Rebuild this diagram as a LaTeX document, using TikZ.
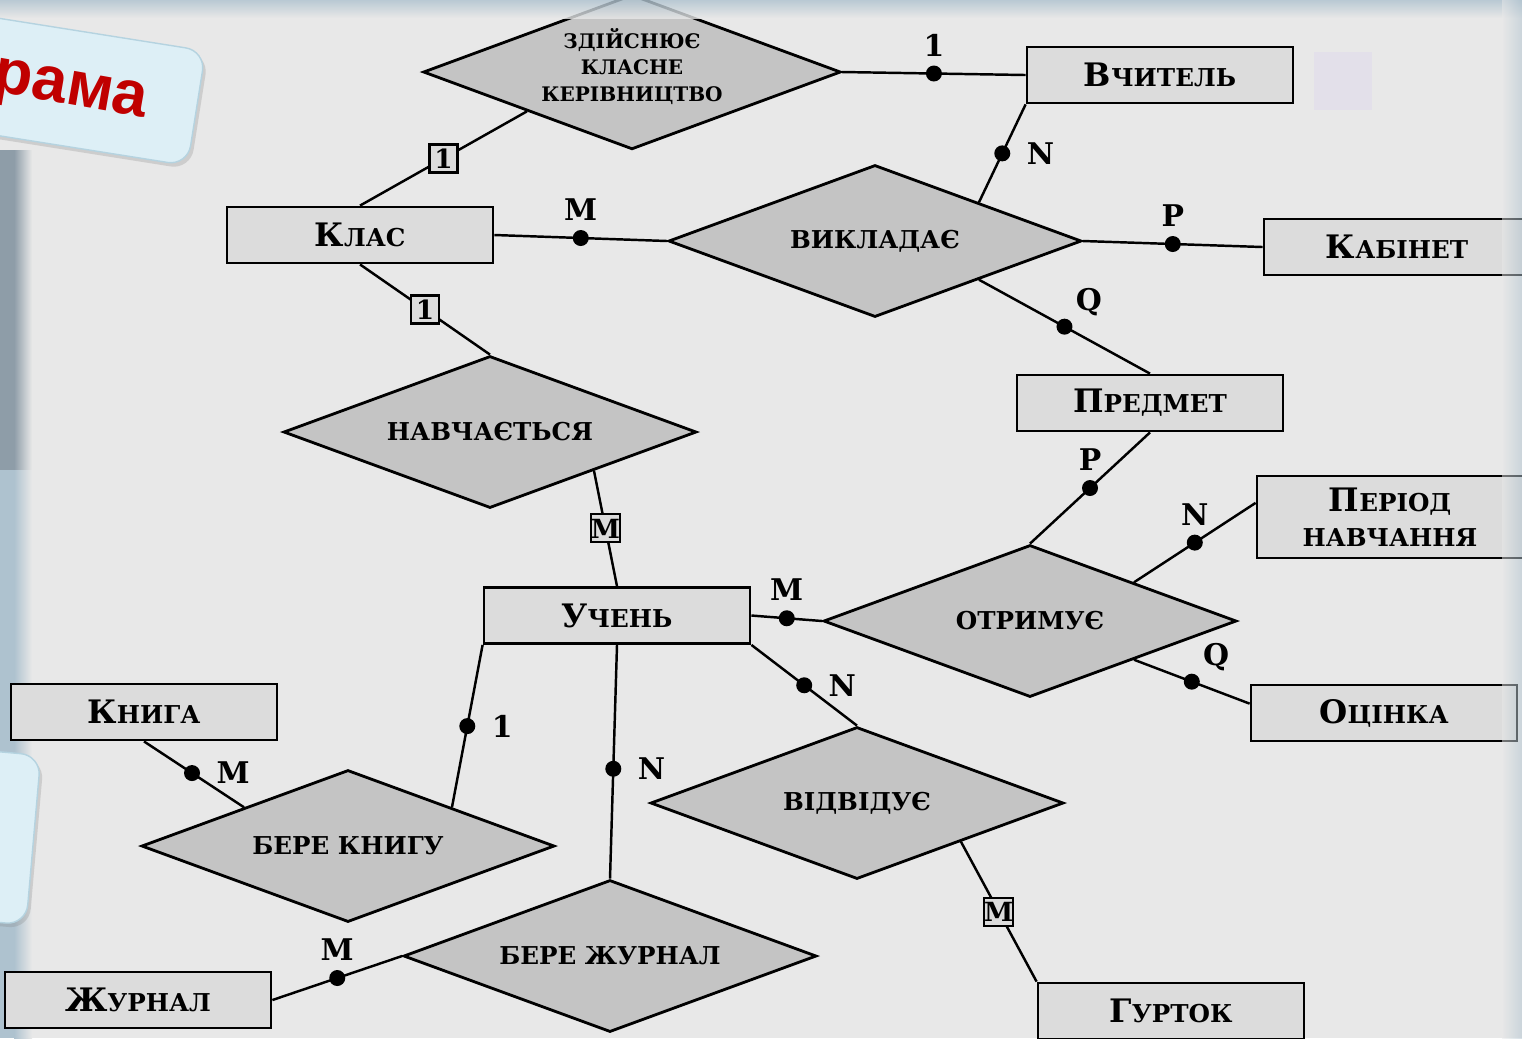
\documentclass[tikz,border=0pt]{standalone}
\usepackage{fontspec}
\setmainfont{DejaVu Serif}
\newfontfamily\slidefont{Liberation Sans}
\usetikzlibrary{shapes.geometric,shadows}

\definecolor{pagebg}{HTML}{E8E8E8}
\definecolor{entfill}{HTML}{DCDCDC}
\definecolor{relfill}{HTML}{C4C4C4}
\definecolor{tabblue}{HTML}{DDEFF6}
\definecolor{tabedge}{HTML}{B5D3E0}
\definecolor{titlered}{HTML}{C00000}
\definecolor{bandgray}{HTML}{8E9DA8}
\definecolor{bandblue}{HTML}{AEC2CF}
\definecolor{lavpatch}{HTML}{E3E0EA}

% big first letter, the rest in small capitals
\newcommand{\bigsc}[2]{{\fontsize{9.2}{11}\selectfont #1}{\fontsize{7}{9}\selectfont #2}}

\begin{document}
\begin{tikzpicture}[
    font=\bfseries\fontsize{7}{9}\selectfont,
    ent/.style={draw, line width=0.8pt, fill=entfill, rectangle,
                minimum width=2.66cm, minimum height=0.56cm,
                inner sep=2pt, align=center},
    rel/.style={draw, line width=0.8pt, fill=relfill, diamond, aspect=2.7,
                inner sep=0pt, minimum width=4.13cm, minimum height=1.52cm,
                align=center},
    lnk/.style={line width=0.7pt},
    dotmark/.style={circle, fill=black, inner sep=0pt, minimum size=0.16cm},
    card/.style={font=\bfseries\fontsize{8.5}{9}\selectfont, inner sep=1pt},
    boxcard/.style={draw, line width=0.6pt, fill=entfill, inner sep=0pt,
                    minimum size=0.28cm, font=\bfseries\fontsize{7.5}{8}\selectfont},
    tab/.style={fill=tabblue, draw=tabedge, rounded corners=0.2cm,
                drop shadow={opacity=0.25, shadow xshift=0.03cm, shadow yshift=-0.04cm}}
  ]
    %% --- page ---
    \fill[pagebg] (0,0) rectangle (15.22,-10.38);
    \useasboundingbox (0,0) rectangle (15.22,-10.38);
    \fill[bandgray] (0,-1.5) rectangle (0.14,-4.7);
    \shade[left color=bandgray, right color=pagebg] (0.14,-1.5) rectangle (0.32,-4.7);
    \fill[bandblue] (0,-4.7) rectangle (0.14,-10.38);
    \shade[left color=bandblue, right color=pagebg] (0.14,-4.7) rectangle (0.32,-10.38);

    %% --- Entities ---
    \node[ent] (vch) at (11.60,-0.75) {\bigsc{В}{ЧИТЕЛЬ}};
    \node[ent] (kl)  at (3.60,-2.35)  {\bigsc{К}{ЛАС}};
    \node[ent] (kab) at (13.97,-2.47) {\bigsc{К}{АБІНЕТ}};
    \node[ent] (pr)  at (11.50,-4.03) {\bigsc{П}{РЕДМЕТ}};
    \node[ent, minimum height=0.82cm, inner sep=1pt] (pn) at (13.90,-5.17)
      {\bigsc{П}{ЕРІОД}\\[1pt]НАВЧАННЯ};
    \node[ent] (uch) at (6.17,-6.155) {\bigsc{У}{ЧЕНЬ}};
    \node[ent] (oc)  at (13.84,-7.13) {\bigsc{О}{ЦІНКА}};
    \node[ent] (kn)  at (1.44,-7.12)  {\bigsc{К}{НИГА}};
    \node[ent] (zh)  at (1.38,-10.00) {\bigsc{Ж}{УРНАЛ}};
    \node[ent] (gur) at (11.71,-10.11) {\bigsc{Г}{УРТОК}};

    %% --- Relationships ---
    \node[rel, font=\bfseries\fontsize{5.7}{7.6}\selectfont] (zdk) at (6.32,-0.72)
      {ЗДІЙСНЮЄ\\КЛАСНЕ\\КЕРІВНИЦТВО\\[-3.6pt]\mbox{}};
    \node[rel] (vyk) at (8.75,-2.41)  {ВИКЛАДАЄ};
    \node[rel] (nav) at (4.90,-4.32)  {НАВЧАЄТЬСЯ};
    \node[rel] (otr) at (10.30,-6.21) {ОТРИМУЄ};
    \node[rel] (vid) at (8.57,-8.03)  {ВІДВІДУЄ};
    \node[rel] (bk)  at (3.48,-8.46)  {БЕРЕ КНИГУ};
    \node[rel] (bzh) at (6.10,-9.56)  {БЕРЕ ЖУРНАЛ};

    %% --- Links ---
    \draw[lnk] (zdk.east) -- node[dotmark, label={[card, label distance=1pt]above:1}] {} (vch.west);
    \draw[lnk] (kl.north) -- node[boxcard] {1} (zdk.south west);
    \draw[lnk] (kl.east) -- node[dotmark, label={[card, label distance=1pt]above:M}] {} (vyk.west);
    \draw[lnk] (vch.south west) -- node[dotmark, label={[card, label distance=3pt]right:N}] {} (vyk.north east);
    \draw[lnk] (vyk.east) -- node[dotmark, label={[card, label distance=1pt]above:P}] {} (kab.west);
    \draw[lnk] (vyk.south east) -- node[dotmark, label={[card]above right:Q}] {} (pr.north);
    \draw[lnk] (kl.south) -- node[boxcard] {1} (nav.north);
    \draw[lnk] (nav.south east) -- node[boxcard] {M} (uch.north);
    \draw[lnk] (uch.east) -- node[dotmark, label={[card, label distance=1pt]above:M}] {} (otr.west);
    \draw[lnk] (pr.south) -- node[dotmark, label={[card, label distance=1pt]above:P}] {} (otr.north);
    \draw[lnk] (pn.174) -- node[dotmark, label={[card, label distance=1pt]above:N}] {} (otr.north east);
    \draw[lnk] (otr.south east) -- node[dotmark, label={[card]above right:Q}] {} (oc.176);
    \draw[lnk] (uch.south east) -- node[dotmark, label={[card, label distance=3pt]right:N}] {} (vid.north);
    \draw[lnk] (vid.south east) -- node[boxcard] {M} (gur.north west);
    \draw[lnk] (uch.south) -- node[pos=.53, dotmark, label={[card, label distance=3pt]right:N}] {} (bzh.north);
    \draw[lnk] (uch.south west) -- node[dotmark, label={[card, label distance=3pt]right:1}] {} (bk.north east);
    \draw[lnk] (kn.south) -- node[pos=.48, dotmark, label={[card, label distance=3pt]right:M}] {} (bk.north west);
    \draw[lnk] (zh.east) -- node[dotmark, label={[card, label distance=1pt]above:M}] {} (bzh.west);

    %% --- Slide frame ---
    \shade[top color=bandblue, bottom color=pagebg, opacity=0.8] (0,0) rectangle (15.22,-0.18);
    \shade[left color=pagebg, right color=bandblue, opacity=0.5] (15.02,0) rectangle (15.22,-10.38);
    \node[fill=lavpatch, inner sep=0pt, minimum size=0.58cm] (patch) at (13.425,-0.81) {};

    %% --- Slide tabs ---
    \node[tab, rotate=-9, minimum width=4cm, minimum height=1.16cm] (tabtop) at (-0.01,-0.77) {};
    \node[rotate=-10, text=titlered,
          font=\slidefont\bfseries\fontsize{18}{20}\selectfont] (title) at (0.70,-0.94) {рама};
    \node[tab, rotate=-5, minimum width=3cm, minimum height=1.70cm] (tablow) at (-1.16,-8.27) {};
  \end{tikzpicture}
\end{document}
